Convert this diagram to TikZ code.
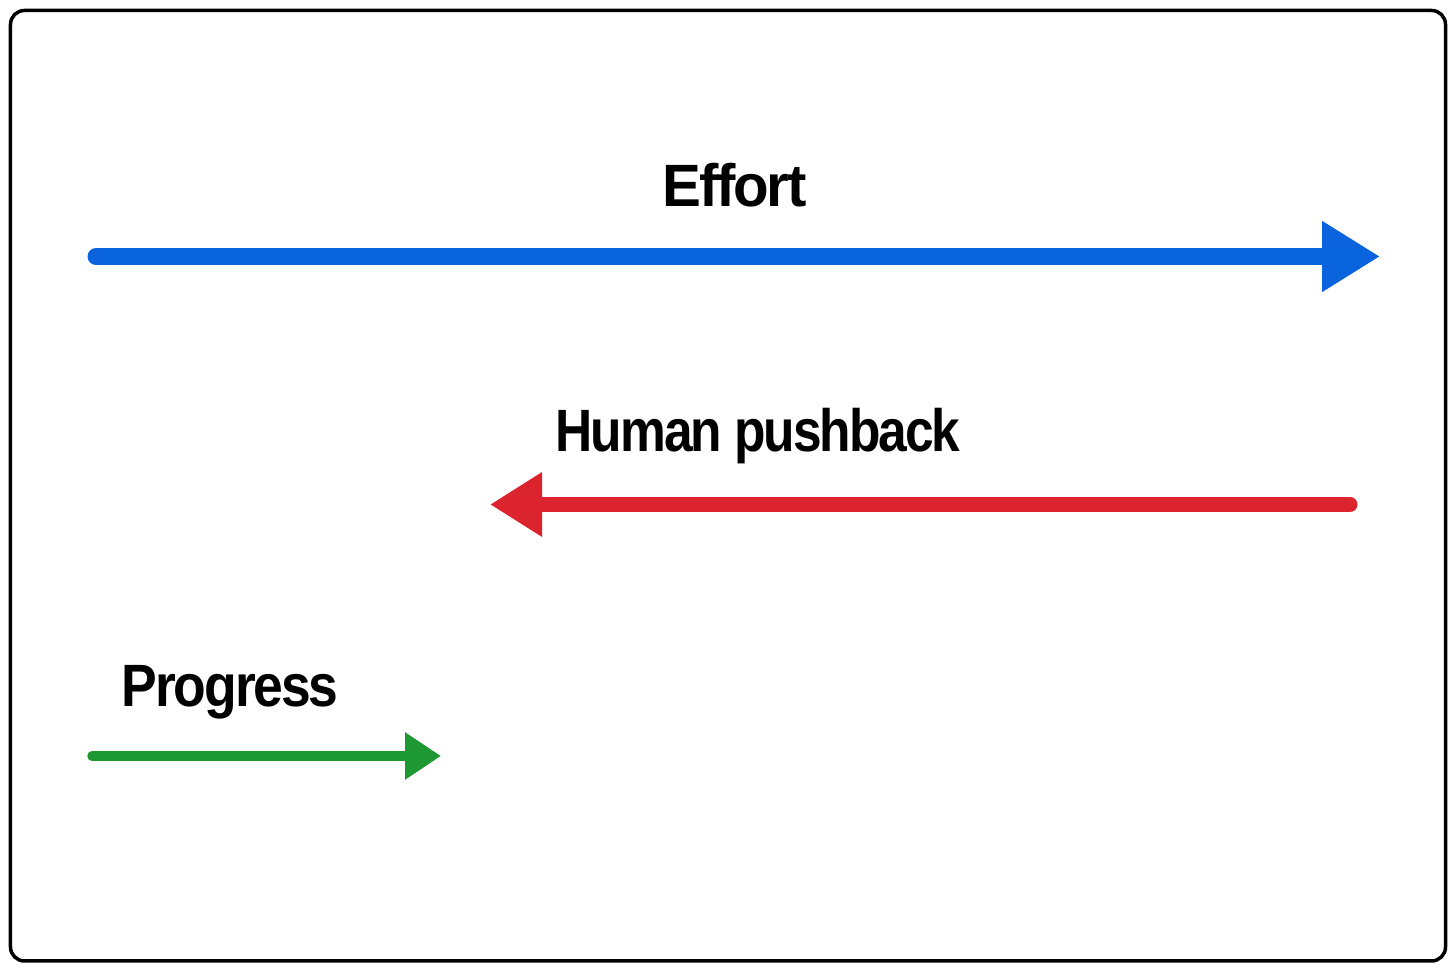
\documentclass[tikz,border=0pt]{standalone}
\usepackage{fontspec}
\usepackage{graphicx}
\setmainfont{Liberation Sans}[LetterSpace=-4]
\usetikzlibrary{arrows.meta}
\definecolor{effblue}{RGB}{10,100,222}
\definecolor{pushred}{RGB}{220,36,46}
\definecolor{progreen}{RGB}{30,152,50}
\tikzset{
  lbl/.style={anchor=base west,inner sep=0pt,font=\fontsize{17pt}{20pt}\selectfont\bfseries,text=black},
  bigarrow/.style={line cap=round}
}
\begin{document}
\begin{tikzpicture}
\useasboundingbox (0,0) rectangle (14.56,9.71);
\fill[white] (0,0) rectangle (14.56,9.71);
\draw[line width=0.035cm,rounded corners=0.14cm] (0.105,0.10) rectangle (14.455,9.605);
% coordinates
\coordinate (bS) at (0.96,7.145);
\coordinate (bE) at (13.80,7.145);
\coordinate (rS) at (13.50,4.665);
\coordinate (rE) at (4.90,4.665);
\coordinate (gS) at (0.92,2.15);
\coordinate (gE) at (4.41,2.15);
% labels
\node[lbl] (effort) at (6.62,7.64) {\scalebox{0.975}[1]{Effort}};
\node[lbl] (push) at (5.55,5.19) {\scalebox{0.862}[1]{Human pushback}};
\node[lbl] (prog) at (1.21,2.64) {\scalebox{0.895}[1]{Progress}};
% arrows
\draw[bigarrow,effblue,line width=0.17cm,-{Triangle[length=0.58cm,width=0.67cm]}] (bS) -- (bE);
\draw[bigarrow,pushred,line width=0.15cm,-{Triangle[length=0.52cm,width=0.61cm]}] (rS) -- (rE);
\draw[bigarrow,progreen,line width=0.095cm,-{Triangle[length=0.36cm,width=0.45cm]}] (gS) -- (gE);
\end{tikzpicture}
\end{document}
